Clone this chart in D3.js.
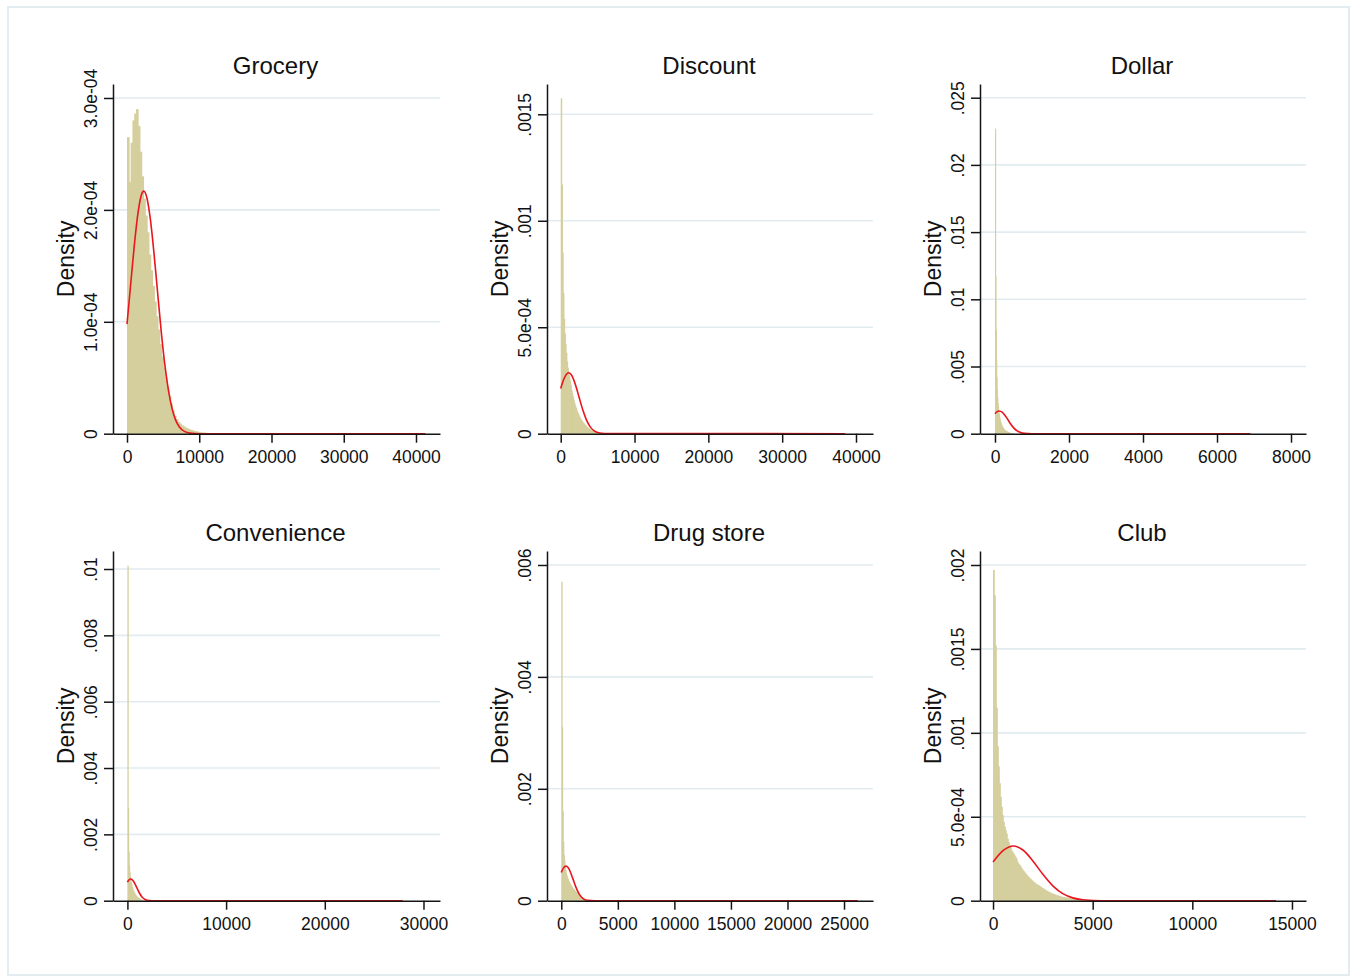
<!DOCTYPE html>
<html><head><meta charset="utf-8">
<script src="https://cdn.jsdelivr.net/npm/d3@7"></script>
<style>
body{margin:0;background:#fff}
svg{display:block}
text{font-family:"Liberation Sans", Arial, Helvetica, sans-serif;fill:#111}
</style>
</head><body>
<svg id="chart" width="1352" height="978"></svg>
<script>
// ---------------- DATA ----------------
const panelNames = ["Grocery", "Discount", "Dollar", "Convenience", "Drug store", "Club"];
const binWidths = [250, 100, 10, 50, 50, 50];

const groceryHeights = [2.65e-4,2.25e-4,2.6e-4,2.8e-4,2.86e-4,2.9e-4,2.75e-4,2.52e-4,2.3e-4,2.1e-4,
  1.95e-4,1.8e-4,1.6e-4,1.46e-4,1.32e-4,1.18e-4,1.05e-4,9.3e-5,8.0e-5,6.9e-5,
  5.9e-5,5.0e-5,4.2e-5,3.4e-5,2.7e-5,2.1e-5,1.6e-5,1.3e-5,1.05e-5,9e-6,
  7.5e-6,6.5e-6,5.5e-6,4.7e-6,4e-6,3.4e-6,2.9e-6,2.4e-6,2e-6,1.7e-6,
  1.4e-6,1.2e-6,1e-6,8e-7,7e-7,6e-7,5e-7,4e-7,3e-7,3e-7,2e-7];
const discountHeights = [1.575e-3,1.17e-3,8.5e-4,6.6e-4,5.4e-4,4.7e-4,4.2e-4,3.8e-4,3.4e-4,3.1e-4,
  2.9e-4,2.7e-4,2.5e-4,2.3e-4,2.05e-4,1.9e-4,1.75e-4,1.6e-4,1.45e-4,1.33e-4,
  1.22e-4,1.12e-4,1.02e-4,9.4e-5,8.6e-5,7.9e-5,7.2e-5,6.6e-5,6.1e-5,5.6e-5,
  5.1e-5,4.7e-5,4.3e-5,3.9e-5,3.5e-5,3.2e-5,2.9e-5,2.6e-5,2.3e-5,2.1e-5,
  1.9e-5,1.7e-5,1.5e-5,1.3e-5,1.2e-5,1.1e-5,1e-5,9e-6,8e-6,7e-6,6e-6,5e-6,4e-6,3e-6];
const dollarHeights = [2.27e-2,1.17e-2,7.7e-3,5.5e-3,4.2e-3,3.3e-3,2.7e-3,2.3e-3,2.0e-3,1.7e-3,
  1.5e-3,1.3e-3,1.15e-3,1.0e-3,9e-4,8e-4,7.2e-4,6.5e-4,5.8e-4,5.2e-4,
  4.7e-4,4.3e-4,3.9e-4,3.5e-4,3.2e-4,2.9e-4,2.6e-4,2.4e-4,2.2e-4,2.0e-4,
  1.8e-4,1.65e-4,1.5e-4,1.35e-4,1.2e-4,1.1e-4,1.0e-4,9e-5,8e-5,7e-5,
  6e-5,5e-5,4e-5,4e-5,3e-5,3e-5,2e-5,2e-5,2e-5,1e-5,1e-5];
const convenienceHeights = [1.01e-2,2.8e-3,1.48e-3,1.05e-3,8.5e-4,7.2e-4,6.2e-4,5.4e-4,4.7e-4,4.1e-4,
  3.6e-4,3.2e-4,2.8e-4,2.5e-4,2.2e-4,1.9e-4,1.7e-4,1.5e-4,1.3e-4,1.2e-4,
  1.0e-4,9e-5,8e-5,7e-5,6e-5,5e-5,4e-5,3e-5,2.5e-5,2e-5,1.5e-5,1e-5,1e-5,5e-6];
const drugHeights = [5.7e-3,3.1e-3,1.6e-3,1.05e-3,8.2e-4,7.2e-4,6.2e-4,5.5e-4,4.9e-4,4.5e-4,
  4.2e-4,3.9e-4,3.6e-4,3.4e-4,3.2e-4,3.0e-4,2.8e-4,2.7e-4,2.5e-4,2.4e-4,
  2.2e-4,2.1e-4,2.0e-4,1.8e-4,1.7e-4,1.6e-4,1.5e-4,1.4e-4,1.3e-4,1.2e-4,
  1.1e-4,1.0e-4,9e-5,8e-5,7e-5,6e-5,5e-5,4e-5,3e-5,2e-5,1.5e-5,1e-5,1e-5];
const clubHeights = [1.97e-3,1.82e-3,1.52e-3,1.15e-3,9.2e-4,8.0e-4,7.0e-4,6.2e-4,5.6e-4,5.1e-4,
  4.7e-4,4.4e-4,4.2e-4,4.0e-4,3.7e-4,3.5e-4,3.3e-4,3.2e-4,3.0e-4,2.9e-4,
  2.8e-4,2.7e-4,2.6e-4,2.5e-4,2.3e-4,2.2e-4,2.13e-4,2.05e-4,1.95e-4,1.85e-4,
  1.78e-4,1.7e-4,1.62e-4,1.55e-4,1.48e-4,1.42e-4,1.35e-4,1.3e-4,1.24e-4,1.18e-4,
  1.13e-4,1.08e-4,1.03e-4,9.9e-5,9.5e-5,9.2e-5,8.8e-5,8.4e-5,8.0e-5,7.6e-5,
  7.2e-5,6.8e-5,6.4e-5,6.0e-5,5.7e-5,5.4e-5,5.1e-5,4.8e-5,4.5e-5,4.2e-5,
  4.0e-5,3.8e-5,3.6e-5,3.4e-5,3.2e-5,3.0e-5,2.8e-5,2.6e-5,2.4e-5,2.3e-5,
  2.2e-5,2.1e-5,2.0e-5,1.9e-5,1.8e-5,1.7e-5,1.6e-5,1.5e-5,1.4e-5,1.4e-5,
  1.3e-5,1.2e-5,1.1e-5,1e-5,1e-5,9e-6,8e-6,8e-6,7e-6,6e-6,5e-6];

// normal-density overlay (red)
const groceryCurveX = [0,500,1000,1500,2000,2320,2750,3250,3750,4250,4750,5250,5750,6250,6750,7250,8000,9000,10000,41300];
const groceryCurveY = [9.79e-5,1.329e-4,1.676e-4,1.963e-4,2.136e-4,2.168e-4,2.109e-4,1.908e-4,1.603e-4,1.251e-4,9.06e-5,6.1e-5,3.82e-5,2.21e-5,1.19e-5,6.0e-6,1.85e-6,3e-7,0,0];
const discountCurveX = [0,300,600,1080,1500,2000,2500,3000,3500,4000,4500,5000,6000,38500];
const discountCurveY = [2.12e-4,2.45e-4,2.696e-4,2.86e-4,2.733e-4,2.30e-4,1.70e-4,1.11e-4,6.35e-5,3.2e-5,1.42e-5,5.5e-6,6e-7,0];
const dollarCurveX = [0,50,117,200,300,400,500,600,700,800,1000,6900];
const dollarCurveY = [1.49e-3,1.62e-3,1.69e-3,1.59e-3,1.25e-3,8.2e-4,4.53e-4,2.08e-4,8e-5,2.6e-5,0,0];
const convenienceCurveX = [0,150,335,600,900,1200,1500,1800,2200,2800,27900];
const convenienceCurveY = [5.62e-4,6.25e-4,6.54e-4,5.95e-4,4.26e-4,2.4e-4,1.06e-4,3.7e-5,6e-6,0,0];
const drugCurveX = [0,200,412,700,1000,1300,1600,1900,2300,3000,26200];
const drugCurveY = [5.05e-4,5.87e-4,6.2e-4,5.61e-4,4.08e-4,2.39e-4,1.13e-4,4.3e-5,8e-6,0,0];
const clubCurveX = [0,500,1023,1500,2000,2500,3000,3500,4000,4500,5500,14200];
const clubCurveY = [2.3e-4,2.98e-4,3.26e-4,3.02e-4,2.37e-4,1.57e-4,8.85e-5,4.2e-5,1.69e-5,5.8e-6,0,0];

// axis ranges and ticks
const xDomains = [[-1938,43322],[-1856,42303],[-405,8405],[-1460,31673],[-1263,27562],[-654,15704]];
const yMaxes = [3.125e-4, 1.6423e-3, 2.602e-2, 1.0543e-2, 6.25e-3, 2.0834e-3];
const xTicks = [[0,10000,20000,30000,40000],[0,10000,20000,30000,40000],[0,2000,4000,6000,8000],
  [0,10000,20000,30000],[0,5000,10000,15000,20000,25000],[0,5000,10000,15000]];
const yTicks = [[0,1e-4,2e-4,3e-4],[0,5e-4,1e-3,1.5e-3],[0,.005,.01,.015,.02,.025],
  [0,.002,.004,.006,.008,.01],[0,.002,.004,.006],[0,5e-4,1e-3,1.5e-3,2e-3]];
const yTickLabels = [["0","1.0e-04","2.0e-04","3.0e-04"],["0","5.0e-04",".001",".0015"],
  ["0",".005",".01",".015",".02",".025"],["0",".002",".004",".006",".008",".01"],
  ["0",".002",".004",".006"],["0","5.0e-04",".001",".0015",".002"]];
const yAxisTitle = "Density";

const heights = [groceryHeights, discountHeights, dollarHeights, convenienceHeights, drugHeights, clubHeights];
const curvesX = [groceryCurveX, discountCurveX, dollarCurveX, convenienceCurveX, drugCurveX, clubCurveX];
const curvesY = [groceryCurveY, discountCurveY, dollarCurveY, convenienceCurveY, drugCurveY, clubCurveY];

// ---------------- LAYOUT ----------------
const colsX = [[113,440],[547,873],[980,1306]];
const rowsY = [[84,433.7],[551,900.7]];
const barColor = "#d5cf9e", gridColor = "#e2ebef", axisColor = "#151515", curveColor = "#e8161d";

const svg = d3.select("#chart");
svg.append("rect").attr("x",8).attr("y",7).attr("width",1341).attr("height",968)
  .attr("fill","#fff").attr("stroke","#e3ecf0").attr("stroke-width",2);

panelNames.forEach((name, i) => {
  const [l, r] = colsX[i % 3];
  const [t, b] = rowsY[Math.floor(i / 3)];
  const x = d3.scaleLinear().domain(xDomains[i]).range([l, r]);
  const y = d3.scaleLinear().domain([0, yMaxes[i]]).range([b, t]);
  const g = svg.append("g");
  const bw = binWidths[i];

  // gridlines
  g.append("g").selectAll("line").data(yTicks[i].filter(v => v > 0)).join("line")
    .attr("x1", l).attr("x2", r).attr("y1", d => y(d)).attr("y2", d => y(d))
    .attr("stroke", gridColor).attr("stroke-width", 1.6);

  // histogram bars
  g.append("g").selectAll("rect").data(heights[i]).join("rect")
    .attr("x", (d, k) => x(k * bw))
    .attr("width", (d, k) => x((k + 1) * bw) - x(k * bw) + 0.8)
    .attr("y", d => y(d))
    .attr("height", d => y(0) - y(d))
    .attr("fill", barColor);

  // normal curve
  const pts = curvesX[i].map((v, k) => [v, curvesY[i][k]]);
  g.append("path").datum(pts)
    .attr("d", d3.line().x(d => x(d[0])).y(d => y(d[1])).curve(d3.curveMonotoneX))
    .attr("fill", "none").attr("stroke", curveColor).attr("stroke-width", 1.6);

  // x axis
  const xa = g.append("g").attr("transform", `translate(0,${b})`)
    .call(d3.axisBottom(x).tickValues(xTicks[i]).tickFormat(d3.format("d"))
      .tickSize(9).tickSizeOuter(0).tickPadding(8));
  xa.selectAll("path,line").attr("stroke", axisColor).attr("stroke-width", 1.5);
  xa.selectAll("text").attr("font-size", "17.5px").attr("fill", "#111")
    .attr("font-family", '"Liberation Sans", Arial, sans-serif');

  // y axis
  const ya = g.append("g").attr("transform", `translate(${l},0)`)
    .call(d3.axisLeft(y).tickValues(yTicks[i]).tickFormat((d, k) => yTickLabels[i][k])
      .tickSize(9).tickSizeOuter(0));
  ya.selectAll("path,line").attr("stroke", axisColor).attr("stroke-width", 1.5);
  ya.selectAll("text").attr("x", null).attr("dy", null)
    .attr("text-anchor", "middle")
    .attr("transform", "translate(-16,0) rotate(-90)")
    .attr("font-size", "17.5px").attr("fill", "#111")
    .attr("font-family", '"Liberation Sans", Arial, sans-serif');

  // y axis title
  g.append("text").attr("transform", `translate(${l - 39},${(t + b) / 2}) rotate(-90)`)
    .attr("text-anchor", "middle").attr("font-size", "23px").text(yAxisTitle);

  // panel title
  g.append("text").attr("x", (l + r) / 2 - 1).attr("y", t - 10)
    .attr("text-anchor", "middle").attr("font-size", "24px").text(name);
});
</script>
</body></html>
